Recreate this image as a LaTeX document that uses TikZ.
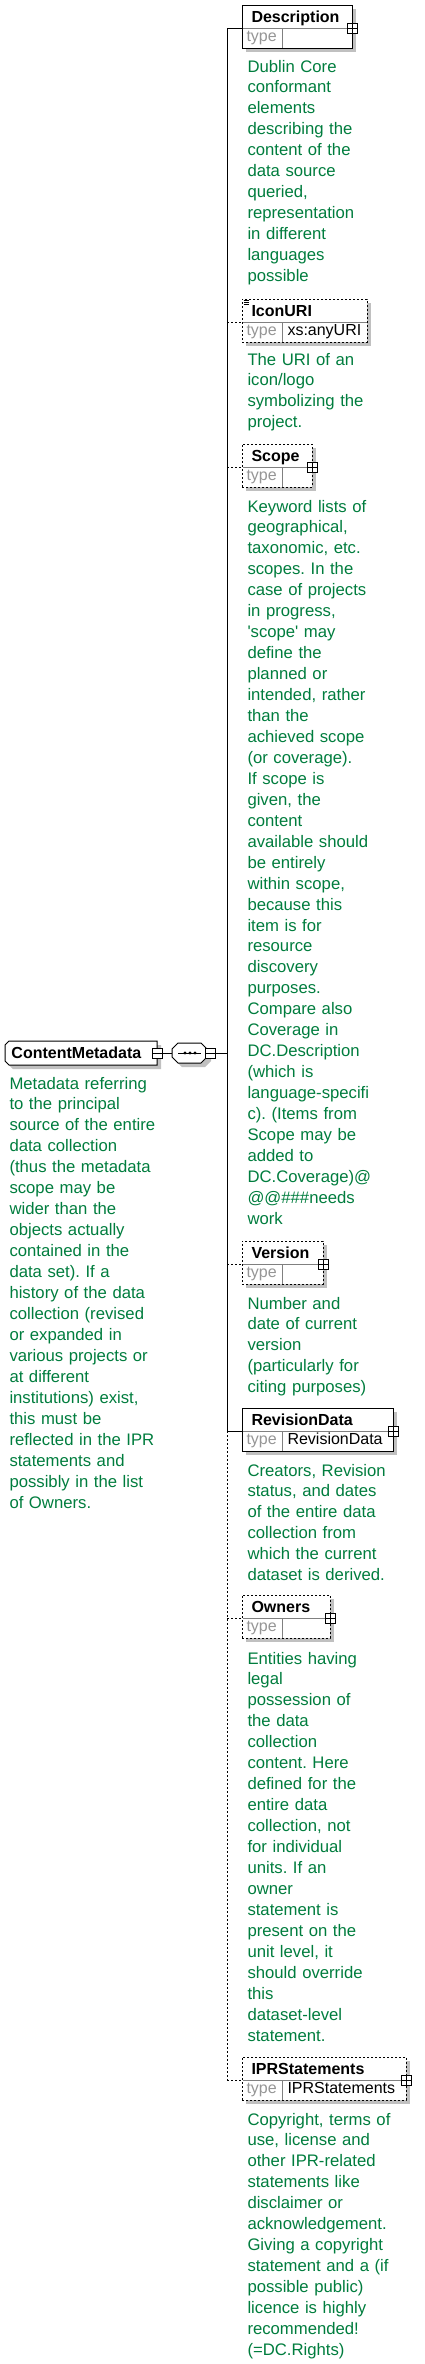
\documentclass[tikz,border=0pt]{standalone}
\usepackage{fontspec}
\setmainfont{Liberation Sans}
\usetikzlibrary{calc}
\frenchspacing
\definecolor{annogreen}{RGB}{0,125,62}
\definecolor{shadowfill}{RGB}{192,192,192}
\definecolor{typegray}{RGB}{150,150,150}
\definecolor{divgray}{RGB}{128,128,128}
\tikzset{
  elbox/.style={draw=black, fill=white, anchor=north west, inner sep=0pt, outer sep=0pt, minimum height=43pt},
  optbox/.style={elbox, dash pattern=on 2pt off 2pt},
  ename/.style={anchor=base west, inner sep=0pt, font=\fontsize{16}{18}\selectfont\bfseries},
  tlabel/.style={anchor=base west, inner sep=0pt, text=typegray, font=\fontsize{16}{18}\selectfont},
  tvalue/.style={anchor=base west, inner sep=0pt, font=\fontsize{16}{18}\selectfont},
  annotext/.style={anchor=base west, inner sep=0pt, text=annogreen, text width=190pt, align=left, font=\fontsize{16.7}{20.95}\selectfont\frenchspacing},
  divider/.style={draw=divgray},
  expandbox/.style={draw=black, fill=white, minimum size=10pt, inner sep=0pt, outer sep=0pt,
    path picture={\draw (path picture bounding box.west) -- (path picture bounding box.east)
      (path picture bounding box.north) -- (path picture bounding box.south);}},
  collapsebox/.style={draw=black, fill=white, minimum size=10pt, inner sep=0pt, outer sep=0pt,
    path picture={\draw (path picture bounding box.west) -- (path picture bounding box.east);}},
  conn/.style={draw=black},
  optconn/.style={draw=black, dash pattern=on 2pt off 2pt},
}
\newcommand\xsdelement[6]{%
  \fill[shadowfill] (246,#2+4) rectangle (246+#3,#2+47);
  \node[#4, minimum width=#3pt] (#1) at (242,#2) {};
  \coordinate (#1-in) at ($(#1.north west)+(0,23)$);
  \coordinate (#1-out) at ($(#1.north east)+(0,23)$);
  \coordinate (#1-ina) at ($(#1.north west)+(0.5,23)$);
  \coordinate (#1-outa) at ($(#1.north east)+(-0.5,23)$);
  \draw[divider] (#1-ina) -- (#1-outa);
  \coordinate (#1-tt) at ($(#1.north west)+(40,23)$);
  \coordinate (#1-tb) at ($(#1.south west)+(40,-0.5)$);
  \draw[divider] (#1-tt) -- (#1-tb);
  \node[ename] (#1-name) at ($(#1.north west)+(9,17)$) {#5};
  \node[tlabel] (#1-type) at ($(#1.north west)+(4,36.5)$) {type};
  \node[tvalue] (#1-tv) at ($(#1.north west)+(45,36.5)$) {#6};
}
\begin{document}
\begin{tikzpicture}[x=1pt,y=-1pt,line width=1pt]
\useasboundingbox (0,0) rectangle (425,2364);
\fill[white] (0,0) rectangle (425,2364);

% ---- root element ContentMetadata ----
\fill[shadowfill] (13,1045) -- (161,1045) -- (161,1069) -- (13,1069) -- (9,1065) -- (9,1049) -- cycle;
\draw[fill=white] (9,1041) -- (157,1041) -- (157,1065) -- (9,1065) -- (5,1061) -- (5,1045) -- cycle;
\node[ename] (cm-name) at (11,1058.5) {ContentMetadata};
\node[collapsebox] (cm-x) at (157,1053) {};
\node[annotext] (cm-doc) at (9,1089) {Metadata referring\\to the principal\\source of the entire\\data collection\\(thus the metadata\\scope may be\\wider than the\\objects actually\\contained in the\\data set). If a\\history of the data\\collection (revised\\or expanded in\\various projects or\\at different\\institutions) exist,\\this must be\\reflected in the IPR\\statements and\\possibly in the list\\of Owners.};

% ---- sequence compositor ----
\fill[shadowfill] (182,1047) -- (205,1047) -- (211,1053) -- (211,1061) -- (205,1067) -- (182,1067) -- (176,1061) -- (176,1053) -- cycle;
\draw[fill=white] (178,1043) -- (201,1043) -- (207,1049) -- (207,1057) -- (201,1063) -- (178,1063) -- (172,1057) -- (172,1049) -- cycle;
\node[minimum width=35pt, minimum height=20pt, inner sep=0pt, outer sep=0pt] (seq) at (189.5,1053) {};
\draw (178,1053) -- (201,1053);
\fill (185,1053) circle (1.6) (190,1053) circle (1.6) (195,1053) circle (1.6);
\node[collapsebox] (seq-x) at (210,1053) {};
\draw[conn] (cm-x.east) -- (seq.west);

% ---- junctions on the sequence bus ----
\coordinate (j-desc) at (227,28);
\coordinate (j-icon) at (227,322);
\coordinate (j-scope) at (227,467);
\coordinate (j-cm) at (227,1053);
\coordinate (j-ver) at (227,1264);
\coordinate (j-rev) at (227,1431);
\coordinate (j-own) at (227,1618);
\coordinate (j-ipr) at (227,2080);
\draw[conn] (seq-x.east) -- (j-cm);
\draw[conn] (j-desc) -- (j-rev);
\draw[optconn] (j-rev) -- (j-ipr);

% ---- children ----
\xsdelement{desc}{5}{110}{elbox}{Description}{}
\node[expandbox] (desc-x) at (desc-out) {};
\draw[conn] (j-desc) -- (desc-in);
\node[annotext] (desc-doc) at (247,72) {Dublin Core\\conformant\\elements\\describing the\\content of the\\data source\\queried,\\representation\\in different\\languages\\possible};

\xsdelement{icon}{299}{125}{optbox}{IconURI}{xs:anyURI}
\draw[line width=0.8pt] (243.5,300) -- (249,300) (243.5,302) -- (249,302) (243.5,304) -- (249,304);
\draw[optconn] (j-icon) -- (icon-in);
\node[annotext] (icon-doc) at (247,365) {The URI of an\\icon/logo\\symbolizing the\\project.};

\xsdelement{scope}{444}{70}{optbox}{Scope}{}
\node[expandbox] (scope-x) at (scope-out) {};
\draw[optconn] (j-scope) -- (scope-in);
\node[annotext] (scope-doc) at (247,512) {Keyword lists of\\geographical,\\taxonomic, etc.\\scopes. In the\\case of projects\\in progress,\\\textquotesingle scope\textquotesingle{} may\\define the\\planned or\\intended, rather\\than the\\achieved scope\\(or coverage).\\If scope is\\given, the\\content\\available should\\be entirely\\within scope,\\because this\\item is for\\resource\\discovery\\purposes.\\Compare also\\Coverage in\\DC.Description\\(which is\\language-specifi\\c). (Items from\\Scope may be\\added to\\DC.Coverage)@\\@@\#\#\#needs\\work};

\xsdelement{ver}{1241}{81}{optbox}{Version}{}
\node[expandbox] (ver-x) at (ver-out) {};
\draw[optconn] (j-ver) -- (ver-in);
\node[annotext] (ver-doc) at (247,1309) {Number and\\date of current\\version\\(particularly for\\citing purposes)};

\xsdelement{rev}{1408}{151}{elbox}{RevisionData}{RevisionData}
\node[expandbox] (rev-x) at (rev-out) {};
\draw[conn] (j-rev) -- (rev-in);
\node[annotext] (rev-doc) at (247,1476) {Creators, Revision\\status, and dates\\of the entire data\\collection from\\which the current\\dataset is derived.};

\xsdelement{own}{1595}{88}{optbox}{Owners}{}
\node[expandbox] (own-x) at (own-out) {};
\draw[optconn] (j-own) -- (own-in);
\node[annotext] (own-doc) at (247,1664) {Entities having\\legal\\possession of\\the data\\collection\\content. Here\\defined for the\\entire data\\collection, not\\for individual\\units. If an\\owner\\statement is\\present on the\\unit level, it\\should override\\this\\dataset-level\\statement.};

\xsdelement{ipr}{2057}{164}{optbox}{IPRStatements}{IPRStatements}
\node[expandbox] (ipr-x) at (ipr-out) {};
\draw[optconn] (j-ipr) -- (ipr-in);
\node[annotext] (ipr-doc) at (247,2125) {Copyright, terms of\\use, license and\\other IPR-related\\statements like\\disclaimer or\\acknowledgement.\\Giving a copyright\\statement and a (if\\possible public)\\licence is highly\\recommended!\\(=DC.Rights)};
\end{tikzpicture}
\end{document}
